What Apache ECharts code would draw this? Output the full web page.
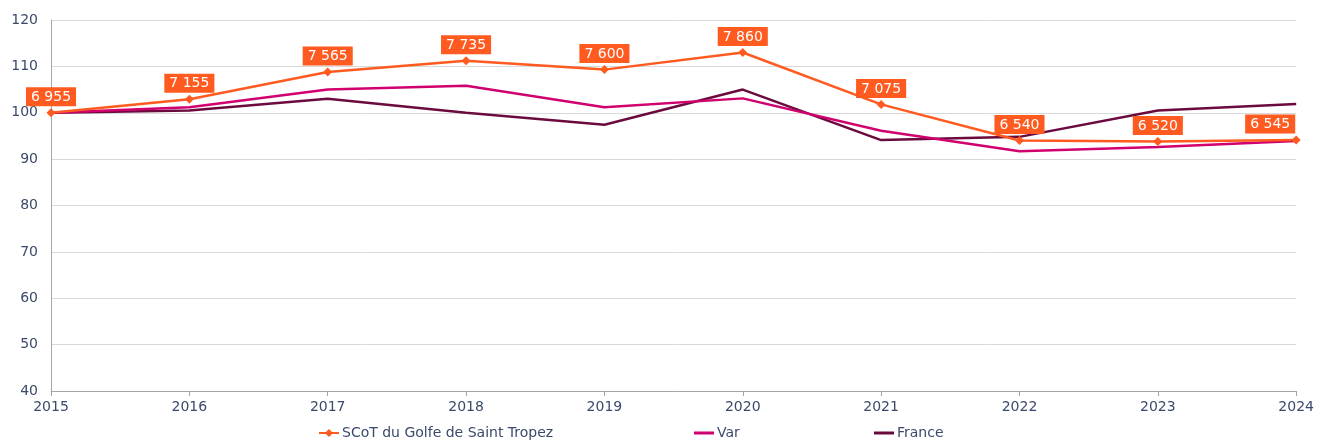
<!DOCTYPE html>
<html>
<head>
<meta charset="utf-8">
<script src="https://cdn.jsdelivr.net/npm/echarts@6/dist/echarts.min.js"></script>
<style>html,body{margin:0;padding:0;background:#fff}#c{width:1317px;height:441px}</style>
</head>
<body>
<div id="c"></div>
<script>
var years = ['2015','2016','2017','2018','2019','2020','2021','2022','2023','2024'];
var scotIndex = [100, 102.9, 108.8, 111.2, 109.3, 113.0, 101.8, 94.0, 93.8, 94.1];
var scotLabels = ['6 955','7 155','7 565','7 735','7 600','7 860','7 075','6 540','6 520','6 545'];
var varIndex = [100, 101.2, 105.0, 105.8, 101.2, 103.1, 96.1, 91.7, 92.6, 93.9];
var franceIndex = [100, 100.5, 103.0, 100.0, 97.4, 105.0, 94.1, 94.8, 100.5, 101.9];
var seriesNames = ['SCoT du Golfe de Saint Tropez', 'Var', 'France'];

var txt = '#3b4a6b';
var font = 'DejaVu Sans, Verdana, sans-serif';
var cOrange = '#ff5a1f', cVar = '#d1006f', cFr = '#6b0a3f';
var chart = echarts.init(document.getElementById('c'));
function lg(item, left, h){
  return {data:[item], left:left, top:426, padding:0, itemWidth:20, itemHeight:h, itemGap:0,
    textStyle:{color:txt, fontSize:14, fontFamily:font, padding:[0,0,0,-2]}};
}
var scotData = scotIndex.map(function(v, i){
  var d = {value:v};
  if (i === scotIndex.length - 1) d.label = {offset:[-26, 0]};
  return d;
});
chart.setOption({
  animation:false,
  textStyle:{fontFamily:font},
  legend:[
    lg({name:seriesNames[0]}, 318, 10),
    lg({name:seriesNames[1], icon:'rect', itemStyle:{color:cVar}}, 694, 3),
    lg({name:seriesNames[2], icon:'rect', itemStyle:{color:cFr}}, 874, 3)
  ],
  grid:{left:51, right:18, top:20, bottom:50, containLabel:false},
  xAxis:{type:'category', data:years, boundaryGap:false,
    axisLine:{lineStyle:{color:'#a6a6a6'}},
    axisTick:{show:true, length:5, lineStyle:{color:'#a6a6a6'}},
    axisLabel:{color:txt, fontSize:14, fontFamily:font, margin:9}},
  yAxis:{type:'value', min:40, max:120, interval:10,
    axisLine:{show:true, lineStyle:{color:'#a6a6a6'}},
    axisTick:{show:false},
    axisLabel:{color:txt, fontSize:14, fontFamily:font, margin:13},
    splitLine:{lineStyle:{color:'#d9d9d9'}}},
  series:[
    {name:seriesNames[2], type:'line', data:franceIndex, symbol:'none',
      lineStyle:{color:cFr, width:2.5}, itemStyle:{color:cFr}, z:2},
    {name:seriesNames[1], type:'line', data:varIndex, symbol:'none',
      lineStyle:{color:cVar, width:2.5}, itemStyle:{color:cVar}, z:3},
    {name:seriesNames[0], type:'line', data:scotData, symbol:'diamond', symbolSize:9,
      lineStyle:{color:cOrange, width:2.5}, itemStyle:{color:cOrange}, z:4,
      label:{show:true, position:'top', distance:2, color:'#fff', fontSize:14, fontFamily:font,
        backgroundColor:cOrange, padding:[3,5,2,5],
        formatter:function(p){return scotLabels[p.dataIndex];}}}
  ]
});
</script>
</body>
</html>
